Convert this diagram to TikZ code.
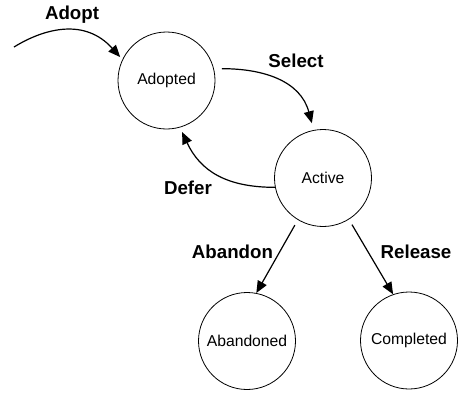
\documentclass[tikz,border=0pt]{standalone}
\usepackage{fontspec}
\setmainfont{Liberation Sans}
\usetikzlibrary{arrows.meta}
\tikzset{
  state/.style={circle, draw, line width=0.8bp, minimum size=97bp, inner sep=0pt,
    font=\fontsize{15.7bp}{18bp}\selectfont},
  trans/.style={line width=1.2bp, -{Triangle[length=12bp,width=10bp]}},
  lbl/.style={font=\fontsize{18.7bp}{22bp}\selectfont\bfseries, inner sep=0pt}
}
\begin{document}
\begin{tikzpicture}[x=1bp,y=1bp]
\useasboundingbox (0,0) rectangle (459,392);
\node[state] (adopted) at (166.5,311.5) {Adopted};
\node[state] (active) at (323,214) {Active};
\node[state] (abandoned) at (247,51) {Abandoned};
\node[state] (completed) at (409,51.5) {Completed};
\coordinate (adoptstart) at (14,345);
% transitions
\draw[trans] (adoptstart) .. controls (45,364) and (85,374) .. ([shift={(-4,-1)}]adopted.150);
\draw[trans, shorten <=8bp, shorten >=7bp] (adopted.14) to[out=0,in=105,looseness=1.1] (active.101);
\draw[trans, shorten >=5bp] (active.191) to[out=180,in=-65,looseness=1.1] (adopted.-74);
\draw[trans, shorten <=6bp] (active.239) -- (abandoned.79);
\draw[trans, shorten <=6bp] (active.-58) -- (completed.109);
% labels
\node[lbl] (ladopt) at (72,377) {Adopt};
\node[lbl] (lselect) at (296,331) {Select};
\node[lbl] (ldefer) at (188,204) {Defer};
\node[lbl] (labandon) at (232.5,140) {Abandon};
\node[lbl] (lrelease) at (416,140) {Release};
\end{tikzpicture}
\end{document}
